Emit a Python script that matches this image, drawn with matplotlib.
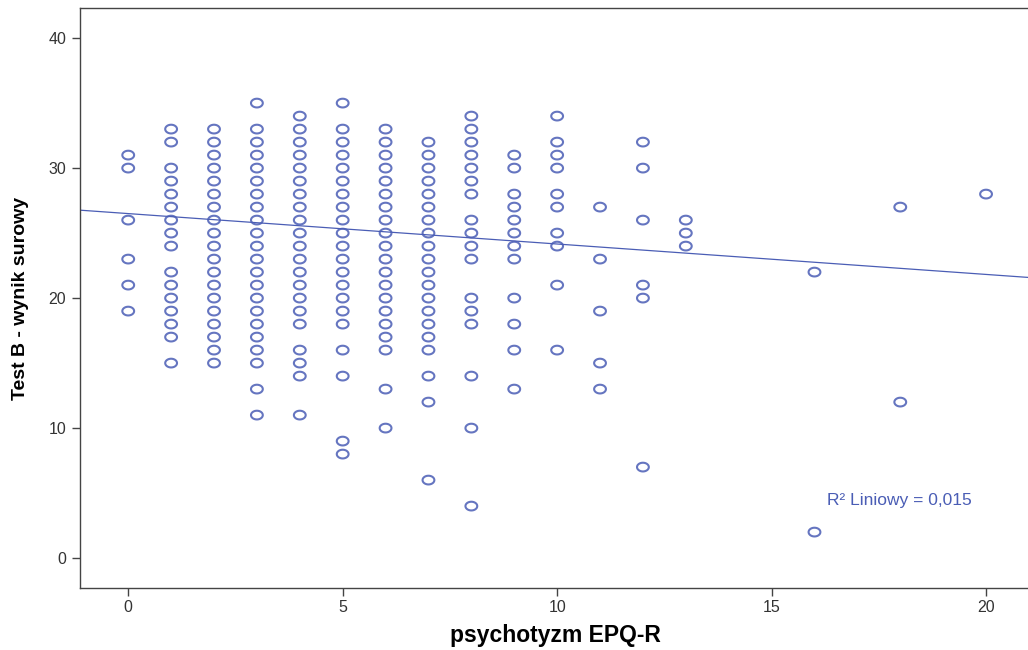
import numpy as np
import matplotlib
matplotlib.use("Agg")
import matplotlib.pyplot as plt
from matplotlib.path import Path

# psychotyzm EPQ-R scores and the Test B raw scores observed at each of them
epq_scores = [0, 1, 2, 3, 4, 5, 6, 7, 8, 9, 10, 11, 12, 13, 16, 18, 20]
test_b_scores = [
    [31, 30, 26, 23, 21, 19],
    [33, 32, 30, 29, 28, 27, 26, 25, 24, 22, 21, 20, 19, 18, 17, 15],
    [33, 32, 31, 30, 29, 28, 27, 26, 25, 24, 23, 22, 21, 20, 19, 18, 17, 16, 15],
    [35, 33, 32, 31, 30, 29, 28, 27, 26, 25, 24, 23, 22, 21, 20, 19, 18, 17, 16, 15, 13, 11],
    [34, 33, 32, 31, 30, 29, 28, 27, 26, 25, 24, 23, 22, 21, 20, 19, 18, 16, 15, 14, 11],
    [35, 33, 32, 31, 30, 29, 28, 27, 26, 25, 24, 23, 22, 21, 20, 19, 18, 16, 14, 9, 8],
    [33, 32, 31, 30, 29, 28, 27, 26, 25, 24, 23, 22, 21, 20, 19, 18, 17, 16, 13, 10],
    [32, 31, 30, 29, 28, 27, 26, 25, 24, 23, 22, 21, 20, 19, 18, 17, 16, 14, 12, 6],
    [34, 33, 32, 31, 30, 29, 28, 26, 25, 24, 23, 20, 19, 18, 14, 10, 4],
    [31, 30, 28, 27, 26, 25, 24, 23, 20, 18, 16, 13],
    [34, 32, 31, 30, 28, 27, 25, 24, 21, 16],
    [27, 23, 19, 15, 13],
    [32, 30, 26, 21, 20, 7],
    [26, 25, 24],
    [22, 2],
    [27, 12],
    [28],
]

# linear fit shown on the chart
fit_intercept = 26.5
fit_slope = -0.234
r_squared = 0.015

blue = "#4a5db5"
font = "Liberation Sans"

x = np.concatenate([[e] * len(ys) for e, ys in zip(epq_scores, test_b_scores)])
y = np.concatenate(test_b_scores)

# slightly flattened circle, like the SPSS marker
t = np.linspace(0, 2 * np.pi, 60)
ellipse = Path(np.column_stack([np.cos(t), 0.74 * np.sin(t)]), closed=True)

fig = plt.figure(figsize=(10.28, 6.5), dpi=100)
ax = fig.add_axes([0.078, 0.0954, 0.925, 0.892])

ax.scatter(x, y, s=72, marker=ellipse, facecolors="none", edgecolors=blue,
           linewidths=1.5, alpha=0.85, zorder=3)

xlim = (-1.12, 21.05)
ax.set_xlim(xlim)
ax.set_ylim(-2.3, 42.3)
line_x = np.array(xlim)
ax.plot(line_x, fit_intercept + fit_slope * line_x, color=blue, lw=0.9, zorder=2)

ax.text(16.3, 4.4, "R² Liniowy = " + f"{r_squared:.3f}".replace(".", ","),
        color=blue, fontsize=12.5, family=font, va="center")

ax.set_xticks([0, 5, 10, 15, 20])
ax.set_yticks([0, 10, 20, 30, 40])
for side in ["left", "bottom", "top", "right"]:
    ax.spines[side].set_color("#444444")
    ax.spines[side].set_linewidth(1.0)
ax.tick_params(axis="both", direction="out", length=6, width=1.0, color="#444444",
               labelsize=11.5, labelcolor="#333333", pad=4)
ax.tick_params(axis="x", pad=3)
for lab in ax.get_xticklabels() + ax.get_yticklabels():
    lab.set_family(font)

ax.set_xlabel("psychotyzm EPQ-R", fontsize=16.5, fontweight="bold",
              family=font, labelpad=6)
ax.set_ylabel("Test B - wynik surowy", fontsize=14, fontweight="bold",
              family=font, labelpad=14)

fig.savefig("out.png", dpi=100)
